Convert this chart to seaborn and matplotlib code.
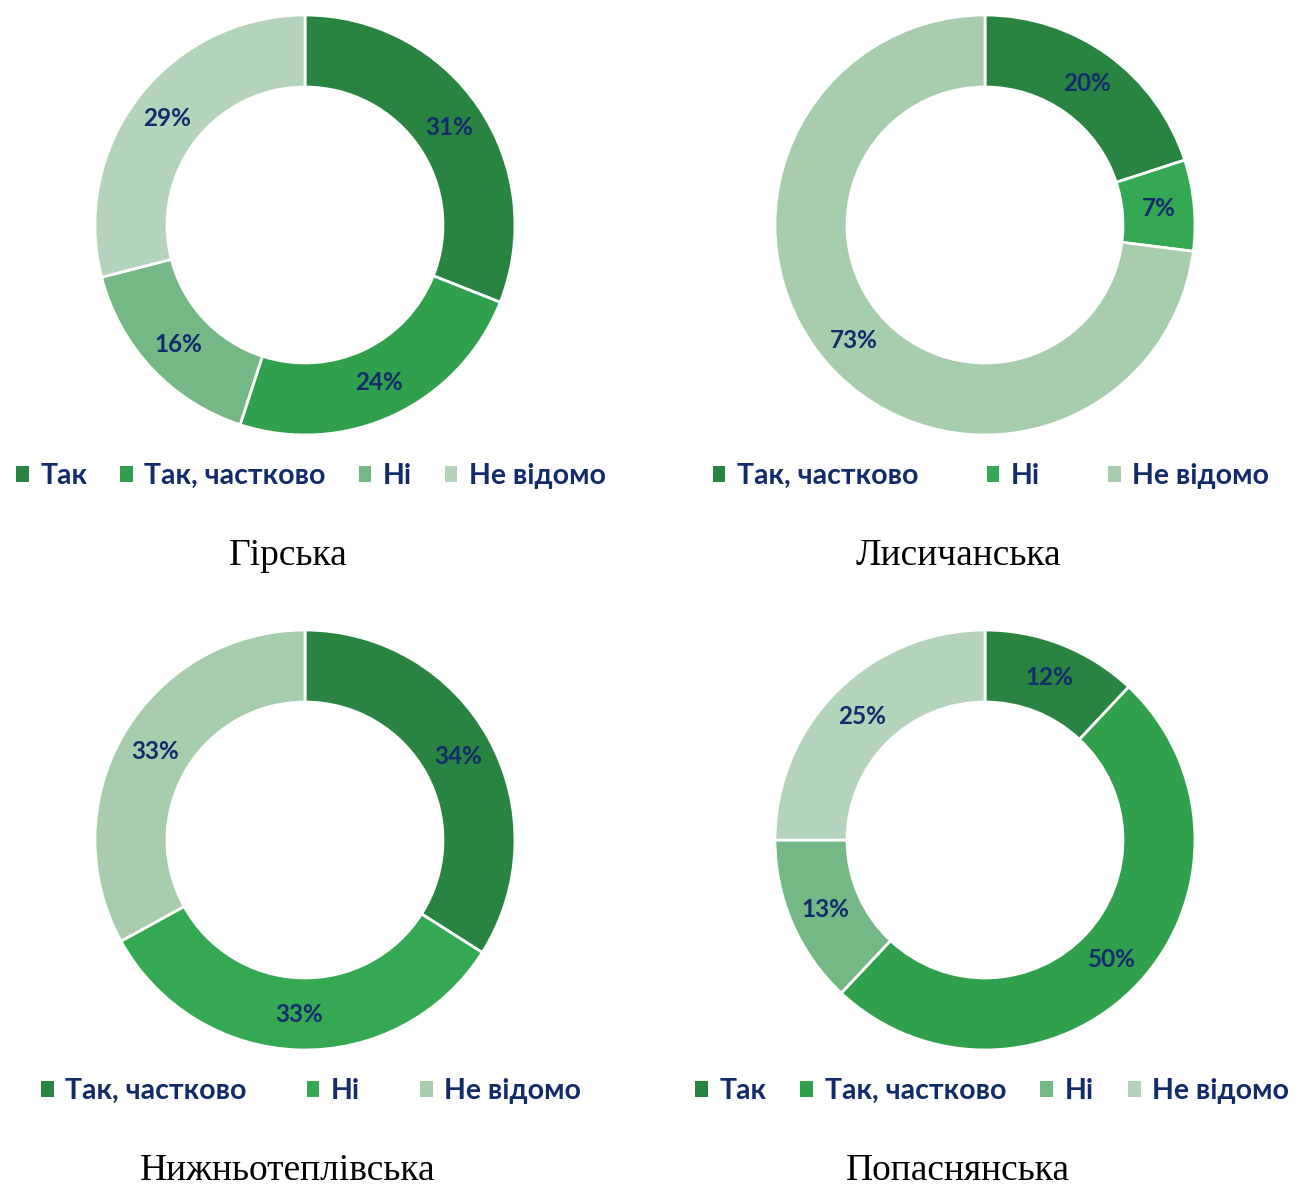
import matplotlib
matplotlib.use("Agg")
import matplotlib.pyplot as plt
from matplotlib.patches import Patch
import seaborn as sns

sns.set_theme(style="white")
plt.rcParams["font.family"] = ["Lato", "DejaVu Sans"]

# --- data -------------------------------------------------------------
hirska_labels = ["Так", "Так, частково", "Ні", "Не відомо"]
hirska_values = [31, 24, 16, 29]

lysychanska_labels = ["Так, частково", "Ні", "Не відомо"]
lysychanska_values = [20, 7, 73]

nyzhnoteplivska_labels = ["Так, частково", "Ні", "Не відомо"]
nyzhnoteplivska_values = [34, 33, 33]

popasnianska_labels = ["Так", "Так, частково", "Ні", "Не відомо"]
popasnianska_values = [12, 50, 13, 25]

titles = ["Гірська", "Лисичанська", "Нижньотеплівська", "Попаснянська"]

# --- styling ------------------------------------------------------------
palette4 = ["#2A8441", "#30A04C", "#74B985", "#B3D4BA"]
palette3 = ["#2A8441", "#35A854", "#A7CDAC"]
label_color = "#112B6B"

W, H = 1296, 1189
fig = plt.figure(figsize=(W / 100, H / 100), dpi=100)

R_PX = 210
LIM = 1.05
SIDE = 2 * R_PX * LIM


def donut(cx, cy, values, colors, labels, title, legend_cx, legend_y,
          colspacing, title_cx, title_y):
    ax = fig.add_axes([(cx - SIDE / 2) / W, 1 - (cy + SIDE / 2) / H,
                       SIDE / W, SIDE / H])
    ax.pie(values, colors=colors, startangle=90, counterclock=False,
           radius=1.0, autopct=lambda p: f"{p:.0f}%", pctdistance=0.83,
           wedgeprops=dict(width=0.343, edgecolor="white", linewidth=2),
           textprops=dict(color=label_color, fontsize=17.5,
                          fontweight="bold"))
    ax.set_xlim(-LIM, LIM)
    ax.set_ylim(-LIM, LIM)
    ax.set_aspect("equal")
    ax.axis("off")

    handles = [Patch(facecolor=c, edgecolor="none", label=l)
               for c, l in zip(colors, labels)]
    fig.legend(handles=handles, loc="center", ncol=len(handles),
               bbox_to_anchor=(legend_cx / W, 1 - legend_y / H),
               frameon=False, handlelength=0.45, handleheight=0.45,
               handletextpad=0.4, columnspacing=colspacing,
               prop=dict(family=["Lato", "DejaVu Sans"], weight="bold",
                         size=20.5),
               labelcolor=label_color)

    fig.text(title_cx / W, 1 - title_y / H, title, ha="center",
             va="center", fontsize=27,
             family=["Liberation Serif", "DejaVu Serif"], color="black")


donut(305, 225, hirska_values, palette4, hirska_labels, titles[0],
      311, 476, 1.15, 288, 556)
donut(985, 225, lysychanska_values, palette3, lysychanska_labels, titles[1],
      991, 476, 2.4, 958, 556)
donut(305, 840, nyzhnoteplivska_values, palette3, nyzhnoteplivska_labels,
      titles[2], 311, 1091, 2.1, 288, 1171)
donut(985, 840, popasnianska_values, palette4, popasnianska_labels,
      titles[3], 992, 1091, 1.2, 958, 1171)

fig.savefig("out.png", dpi=100, facecolor="white")
